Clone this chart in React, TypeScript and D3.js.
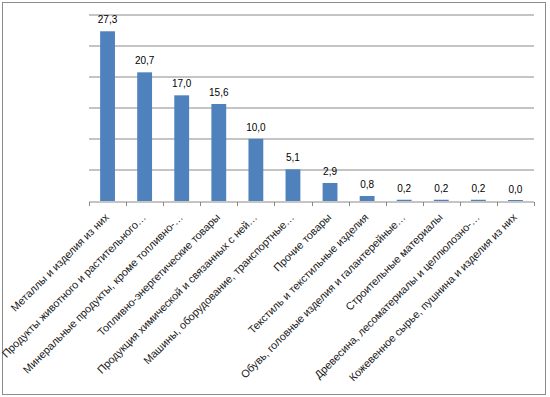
import React, { useEffect, useRef } from "react";
import * as d3 from "d3";

// categories (as shown on the axis, truncated like the original)
const categories: string[] = [
  "Металлы и изделия из них",
  "Продукты животного и растительного…",
  "Минеральные продукты, кроме топливно-…",
  "Топливно-энергетические товары",
  "Продукция химической и связанных с ней…",
  "Машины, оборудование, транспортные…",
  "Прочие товары",
  "Текстиль и текстильные изделия",
  "Обувь, головные изделия и галантерейные…",
  "Строительные материалы",
  "Древесина, лесоматериалы и целлюлозно-…",
  "Кожевенное сырье, пушнина и изделия из них",
];

const values: number[] = [27.3, 20.7, 17.0, 15.6, 10.0, 5.1, 2.9, 0.8, 0.2, 0.2, 0.2, 0.0];

const yTicks: number[] = [0, 5, 10, 15, 20, 25, 30];

const App = () => {
  const ref = useRef<SVGSVGElement | null>(null);

  useEffect(() => {
    const W = 550;
    const H = 397;
    const margin = { top: 14.5, right: 16, bottom: 196, left: 89 };
    const width = W - margin.left - margin.right;
    const height = H - margin.top - margin.bottom;

    const svg = d3.select(ref.current);
    svg.selectAll("*").remove();

    // outer chart border
    svg
      .append("rect")
      .attr("x", 2.5)
      .attr("y", 2.5)
      .attr("width", W - 7)
      .attr("height", H - 5)
      .attr("fill", "white")
      .attr("stroke", "#8c8c8c")
      .attr("stroke-width", 1);

    const g = svg.append("g").attr("transform", `translate(${margin.left},${margin.top})`);

    const x = d3.scaleBand().domain(categories).range([0, width]).paddingInner(0.6).paddingOuter(0.3);
    const y = d3.scaleLinear().domain([0, 30]).range([height, 0]);

    // gridlines
    g.selectAll(".grid")
      .data(yTicks.filter((t) => t > 0))
      .enter()
      .append("line")
      .attr("x1", 0)
      .attr("x2", width)
      .attr("y1", (d) => Math.round(y(d)) + 0.5)
      .attr("y2", (d) => Math.round(y(d)) + 0.5)
      .attr("stroke", "#8a8a8a")
      .attr("stroke-width", 1);

    // bars
    g.selectAll(".bar")
      .data(values)
      .enter()
      .append("rect")
      .attr("x", (d, i) => x(categories[i])!)
      .attr("width", x.bandwidth())
      .attr("y", (d) => Math.min(y(d), height - 1))
      .attr("height", (d) => Math.max(1, height - y(d)))
      .attr("fill", "#4f81bd");

    // value labels
    g.selectAll(".val")
      .data(values)
      .enter()
      .append("text")
      .attr("x", (d, i) => x(categories[i])! + x.bandwidth() / 2)
      .attr("y", (d) => y(d) - 8)
      .attr("text-anchor", "middle")
      .attr("font-family", "Liberation Sans, Arial, sans-serif")
      .attr("font-size", 10)
      .attr("fill", "#000")
      .text((d) => d.toFixed(1).replace(".", ","));

    // x axis
    const base = Math.round(height) + 0.5;
    g.append("line")
      .attr("x1", 0)
      .attr("x2", width)
      .attr("y1", base)
      .attr("y2", base)
      .attr("stroke", "#8a8a8a");

    const tickXs = d3.range(categories.length + 1).map((i) => Math.round(i * (width / categories.length)) + 0.5);
    g.selectAll(".tick")
      .data(tickXs)
      .enter()
      .append("line")
      .attr("x1", (d) => d)
      .attr("x2", (d) => d)
      .attr("y1", base)
      .attr("y2", base + 4)
      .attr("stroke", "#8a8a8a");

    // rotated category labels
    g.selectAll(".cat")
      .data(categories)
      .enter()
      .append("text")
      .attr("transform", (d) => `translate(${x(d)! + x.bandwidth() / 2 + 2},${height + 17}) rotate(-45)`)
      .attr("text-anchor", "end")
      .attr("font-family", "Liberation Sans, Arial, sans-serif")
      .attr("font-size", 10.8)
      .attr("fill", "#1a1a1a")
      .text((d) => d);
  }, []);

  return <svg ref={ref} width={550} height={397} style={{ position: "absolute", left: 0, top: 0 }} />;
};

export default App;
